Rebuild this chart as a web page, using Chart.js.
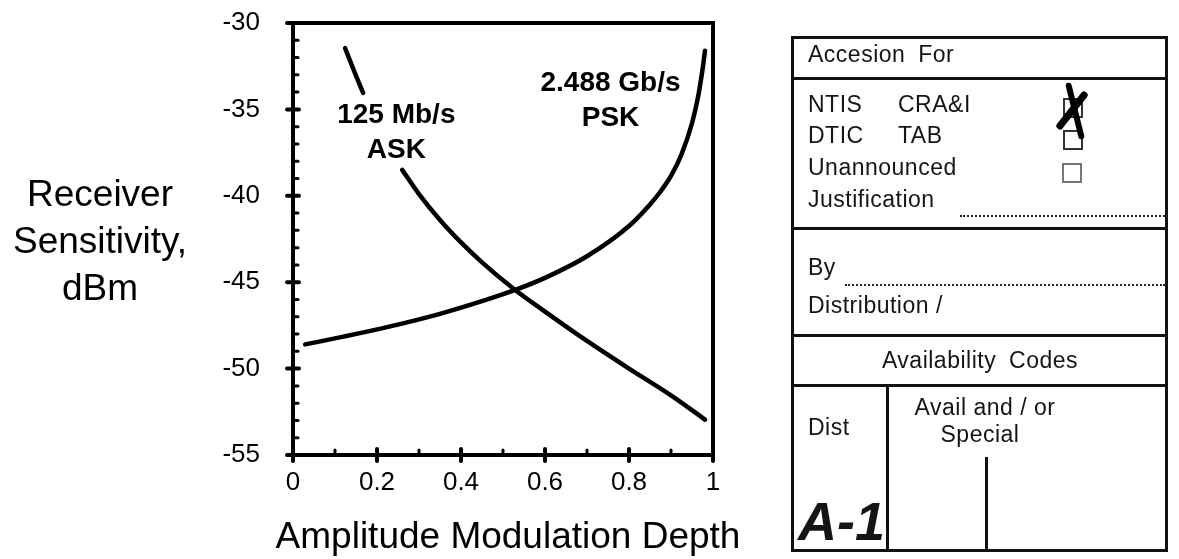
<!DOCTYPE html>
<html>
<head>
<meta charset="utf-8">
<script src="https://cdn.jsdelivr.net/npm/chart.js@4.4.1/dist/chart.umd.min.js"></script>
<style>
  html, body { margin: 0; padding: 0; background: #fff; }
  body { width: 1179px; height: 559px; position: relative; overflow: hidden;
         font-family: "Liberation Sans", Arial, Helvetica, sans-serif; color: #000; }
  #wrap { position: absolute; left: 0; top: 0; width: 1179px; height: 559px; }
  #ytitle { position: absolute; left: 0; top: 170px; width: 200px; text-align: center;
            font-size: 37px; line-height: 47px; }
  #xtitle { position: absolute; left: 258px; top: 517px; width: 500px; text-align: center;
            font-size: 37px; line-height: 37px; white-space: nowrap; }
  .ln { position: absolute; background: #111; }
  .dot { position: absolute; height: 0; border-top: 2px dotted #222; }
  .ft { position: absolute; font-size: 23px; line-height: 23px; color: #151515; white-space: pre; letter-spacing: 0.5px; }
  .cb { position: absolute; width: 16px; height: 16px; border: 2px solid #333; }
  .xm { position: absolute; background: #000; border-radius: 3px; }
</style>
</head>
<body>
<div id="wrap"><canvas id="c" width="1179" height="559"></canvas></div>
<div id="ytitle">Receiver<br>Sensitivity,<br>dBm</div>
<div id="xtitle">Amplitude Modulation Depth</div>

<!-- Accession form -->
<div class="ln" style="left:792px;top:36px;width:376px;height:3px"></div>
<div class="ln" style="left:792px;top:77px;width:376px;height:3px"></div>
<div class="ln" style="left:792px;top:227px;width:376px;height:3px"></div>
<div class="ln" style="left:792px;top:334px;width:376px;height:3px"></div>
<div class="ln" style="left:792px;top:384px;width:376px;height:3px"></div>
<div class="ln" style="left:792px;top:549px;width:376px;height:3px"></div>
<div class="ln" style="left:791px;top:36px;width:3px;height:516px"></div>
<div class="ln" style="left:1165px;top:36px;width:3px;height:516px"></div>
<div class="ln" style="left:886px;top:385px;width:3px;height:166px"></div>
<div class="ln" style="left:985px;top:457px;width:3px;height:94px"></div>
<div class="dot" style="left:960px;top:215px;width:205px"></div>
<div class="dot" style="left:845px;top:284px;width:320px"></div>

<div class="ft" style="left:808px;top:43px;word-spacing:6px">Accesion For</div>
<div class="ft" style="left:808px;top:93px">NTIS</div>
<div class="ft" style="left:898px;top:93px">CRA&amp;I</div>
<div class="ft" style="left:808px;top:124px">DTIC</div>
<div class="ft" style="left:898px;top:124px">TAB</div>
<div class="ft" style="left:808px;top:156px">Unannounced</div>
<div class="ft" style="left:808px;top:188px">Justification</div>
<div class="ft" style="left:808px;top:256px">By</div>
<div class="ft" style="left:808px;top:294px">Distribution /</div>
<div class="ft" style="left:792px;top:349px;width:376px;text-align:center;word-spacing:6px">Availability Codes</div>
<div class="ft" style="left:808px;top:416px">Dist</div>
<div class="ft" style="left:887px;top:396px;width:196px;text-align:center">Avail and / or</div>
<div class="ft" style="left:887px;top:423px;width:186px;text-align:center">Special</div>
<div class="ft" style="left:798px;top:494px;font-size:54px;line-height:54px;font-weight:bold;font-style:italic;letter-spacing:0">A-1</div>

<div class="cb" style="left:1063px;top:98px"></div>
<div class="cb" style="left:1063px;top:130px"></div>
<div class="cb" style="left:1062px;top:163px;border-color:#777"></div>
<div class="xm" style="left:1049px;top:107px;width:46px;height:7px;transform:rotate(-52deg)"></div>
<div class="xm" style="left:1046px;top:108px;width:58px;height:6px;transform:rotate(76deg)"></div>

<script>
// ---- data ----
const askDepth = [0.124, 0.145, 0.167, 0.21, 0.26, 0.30, 0.35, 0.40, 0.45, 0.529, 0.60, 0.70, 0.80, 0.90, 0.981];
const askSens  = [-31.45, -32.75, -34.05, null, -38.5, -39.9, -41.4, -42.7, -43.85, -45.45, -46.7, -48.4, -50.0, -51.55, -52.95];

const pskDepth = [0.029, 0.12, 0.224, 0.35, 0.45, 0.529, 0.60, 0.70, 0.80, 0.85, 0.875, 0.90, 0.925, 0.95, 0.965, 0.975, 0.981];
const pskSens  = [-48.6, -48.15, -47.6, -46.83, -46.1, -45.45, -44.75, -43.5, -41.75, -40.5, -39.75, -38.85, -37.6, -35.8, -34.2, -32.7, -31.6];

const seriesLabels = ['125 Mb/s ASK', '2.488 Gb/s PSK'];
const curveNotes = [
  { lines: ['125 Mb/s', 'ASK'], depth: 0.246, sens: [-35.32, -37.35] },
  { lines: ['2.488 Gb/s', 'PSK'], depth: 0.756, sens: [-33.47, -35.5] }
];
const xTickLabelsEvery = 0.2;
const yTickLabelsEvery = 5;

const FONT = '"Liberation Sans", Arial, Helvetica, sans-serif';
Chart.defaults.font.family = FONT;
Chart.defaults.color = '#000';

const toPts = (xs, ys) => xs.map((x, i) => ({ x: x, y: ys[i] }));

const axisDecor = {
  id: 'axisDecor',
  afterDatasetsDraw(chart) {
    const { ctx, chartArea: a, scales: { x, y } } = chart;
    ctx.save();
    ctx.strokeStyle = '#000';
    ctx.lineCap = 'round';
    y.ticks.forEach(t => {
      const py = y.getPixelForValue(t.value);
      const major = Math.abs(Math.round(t.value) % yTickLabelsEvery) === 0;
      ctx.lineWidth = major ? 4 : 3;
      ctx.beginPath();
      ctx.moveTo(a.left - (major ? 6 : 0), py);
      ctx.lineTo(a.left + (major ? 6 : 5), py);
      ctx.stroke();
    });
    x.ticks.forEach(t => {
      const px = x.getPixelForValue(t.value);
      const major = Math.round(t.value * 10) % 2 === 0;
      ctx.lineWidth = major ? 4 : 3;
      ctx.beginPath();
      ctx.moveTo(px, a.bottom + (major ? 6 : 0));
      ctx.lineTo(px, a.bottom - (major ? 6 : 5));
      ctx.stroke();
    });
    ctx.lineCap = 'square';
    ctx.lineWidth = 4;
    ctx.strokeRect(a.left, a.top, a.right - a.left, a.bottom - a.top);
    // curve annotations
    ctx.fillStyle = '#000';
    ctx.font = 'bold 28px ' + FONT;
    ctx.textAlign = 'center';
    ctx.textBaseline = 'middle';
    curveNotes.forEach(n => {
      n.lines.forEach((s, i) => {
        ctx.fillText(s, x.getPixelForValue(n.depth), y.getPixelForValue(n.sens[i]));
      });
    });
    ctx.restore();
  }
};

function noOverhang(s) {
  s.paddingTop = 0; s.paddingBottom = 0; s.paddingLeft = 0; s.paddingRight = 0;
}

new Chart(document.getElementById('c'), {
  type: 'line',
  data: {
    datasets: [
      { label: seriesLabels[0], data: toPts(askDepth, askSens) },
      { label: seriesLabels[1], data: toPts(pskDepth, pskSens) }
    ]
  },
  options: {
    responsive: false,
    animation: false,
    events: [],
    spanGaps: false,
    layout: { padding: { left: 0, right: 466, top: 23, bottom: 0 } },
    elements: {
      line: { borderColor: '#000', borderWidth: 4.5, cubicInterpolationMode: 'monotone', borderCapStyle: 'round', fill: false },
      point: { radius: 0 }
    },
    plugins: { legend: { display: false }, tooltip: { enabled: false } },
    scales: {
      x: {
        type: 'linear', min: 0, max: 1,
        grid: { display: false, drawTicks: false },
        border: { display: false },
        afterFit(s) { s.height = 104; noOverhang(s); },
        ticks: {
          stepSize: 0.1, autoSkip: false, maxRotation: 0, padding: 12,
          font: { size: 26 },
          callback: v => (Math.round(v * 10) % Math.round(xTickLabelsEvery * 10) === 0) ? String(Math.round(v * 10) / 10) : ''
        },
        title: { display: false }
      },
      y: {
        type: 'linear', min: -55, max: -30,
        grid: { display: false, drawTicks: false },
        border: { display: false },
        afterFit(s) { s.width = 293; noOverhang(s); },
        ticks: {
          stepSize: 1, autoSkip: false, padding: 33,
          font: { size: 26 },
          callback: v => (Math.round(v) % yTickLabelsEvery === 0) ? String(v) : ''
        }
      }
    }
  },
  plugins: [axisDecor]
});
</script>
</body>
</html>
